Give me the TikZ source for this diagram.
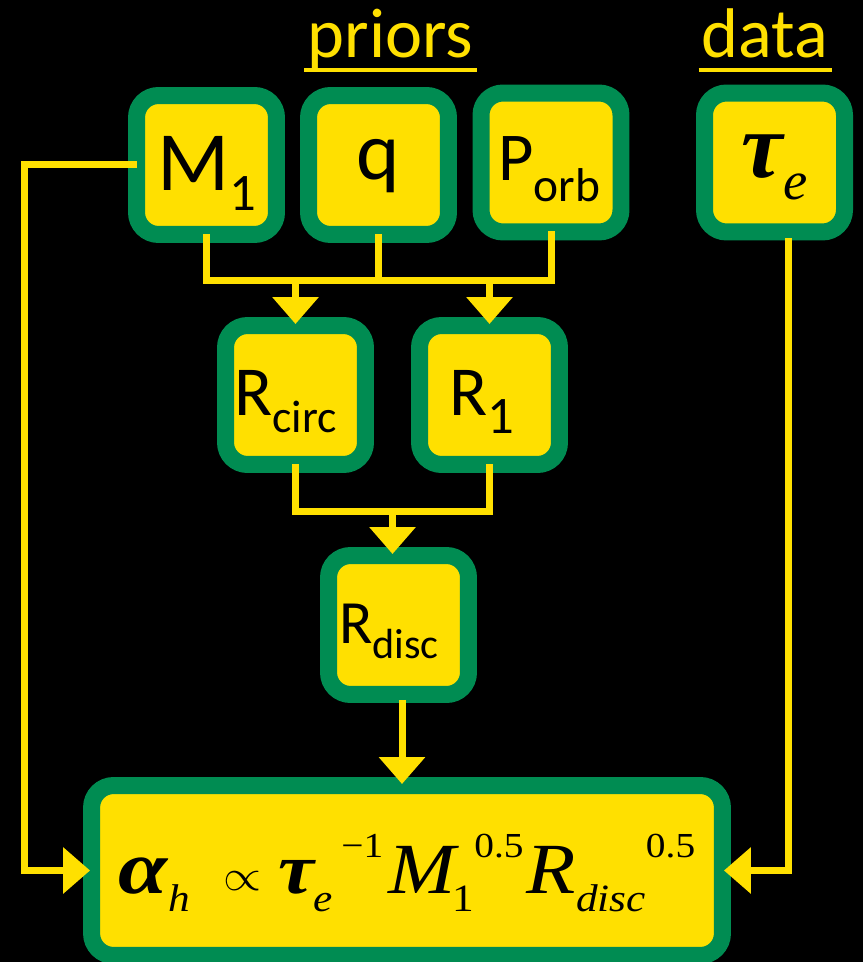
\documentclass[tikz,border=0pt]{standalone}
\usepackage{fontspec}
\setmainfont{Carlito}
\newfontfamily\tnr{Liberation Serif}
\usetikzlibrary{arrows.meta,calc}
\definecolor{boxgreen}{RGB}{0,140,82}
\definecolor{boxyellow}{RGB}{255,224,0}

\newcommand{\fsub}[1]{\raisebox{-0.36cm}{\fontsize{22}{22}\selectfont #1}}
\newcommand{\fsup}[1]{\raisebox{0.72cm}{\fontsize{20}{20}\selectfont #1}}

\begin{document}
\begin{tikzpicture}[
  x=0.02cm, y=-0.02cm,
  box/.style={draw=boxgreen, line width=0.34cm, fill=boxyellow, rounded corners=0.44cm,
    minimum width=2.8cm, minimum height=2.78cm, inner sep=0pt, text depth=0pt},
  title/.style={text=boxyellow, font=\fontsize{40}{40}\selectfont, anchor=base, inner sep=0.06cm},
  link/.style={draw=boxyellow, line width=0.14cm},
  arrow/.style={link, -{Triangle[width=0.9cm,length=0.54cm]}, shorten >=-0.14cm}
]
  \useasboundingbox (0,0) rectangle (863,962);
  \fill[black] (0,0) rectangle (863,962);

  % headings
  \node[title] (priors) at (390.5,58) {priors};
  \node[title] (data) at (765,58) {data};
  \draw[link, line width=0.08cm] ([yshift=-0.24cm]priors.base west) -- ([yshift=-0.24cm]priors.base east);
  \draw[link, line width=0.08cm] ([yshift=-0.24cm]data.base west) -- ([yshift=-0.24cm]data.base east);

  % priors and data
  \node[box, text height=1.04cm] (m1) at (206.5,165)
    {\fontsize{48}{48}\selectfont M\raisebox{-0.4cm}{\fontsize{30}{30}\selectfont 1}};
  \node[box, text height=0.6cm] (q) at (378.5,165) {\fontsize{47}{47}\selectfont q};
  \node[box, text height=0.74cm] (porb) at (551,162.5)
    {\fontsize{39}{39}\selectfont P\raisebox{-0.42cm}{\fontsize{27}{27}\selectfont orb}\kern0.08cm};
  \node[box, text height=0.62cm] (tau) at (774.5,162.5)
    {\tnr\fontsize{53}{53}\selectfont\bfseries\itshape τ\raisebox{-0.44cm}{\fontsize{31}{31}\selectfont\mdseries e}};

  % derived radii
  \node[box, text height=0.84cm] (rcirc) at (295.5,395)
    {\fontsize{40}{40}\selectfont R\raisebox{-0.34cm}{\fontsize{26}{26}\selectfont circ}\kern0.4cm};
  \node[box, text height=0.84cm] (r1) at (489.5,395)
    {\fontsize{40}{40}\selectfont R\raisebox{-0.36cm}{\fontsize{30}{30}\selectfont 1}\kern0.32cm};
  \node[box, text height=0.72cm] (rdisc) at (398.5,625)
    {\fontsize{35}{35}\selectfont R\raisebox{-0.32cm}{\fontsize{24}{24}\selectfont disc}\kern0.38cm};

  % result
  \node[box, minimum width=12.62cm, minimum height=3.4cm, text height=0.9cm] (formula) at (407,870.5)
    {\scalebox{1.12}[1]{\tnr\fontsize{41}{41}\selectfont
     \scalebox{1.1}[1.05]{\bfseries\itshape α}\kern0.01cm\fsub{\itshape h}\kern0.6cm%
     \raisebox{0.06cm}{\fontsize{38}{38}\selectfont$\propto$}\kern0.3cm%
     {\bfseries\itshape τ}\kern-0.02cm\fsub{\itshape e}\kern0.16cm\fsup{−1}\kern0.1cm%
     {\itshape M}\kern-0.06cm\fsub{1}\fsup{0.5}\kern0.06cm{\itshape R}\fsub{\itshape disc}\fsup{0.5}}};

  % connectors
  \coordinate (bus1) at (0,281);
  \coordinate (bus2) at (0,511);
  \draw[arrow, shorten <=-0.18cm] (m1.west) -- ++(-103.5,0) |- (formula.west);
  \draw[link, shorten <=-0.18cm, shorten >=-0.18cm] (m1.south) |- (bus1 -| porb.south) -- (porb.south);
  \draw[link, shorten <=-0.18cm] (q.south) -- (q.south |- bus1);
  \draw[arrow] (rcirc.north |- bus1) -- (rcirc.north);
  \draw[arrow] (r1.north |- bus1) -- (r1.north);
  \draw[link, shorten <=-0.18cm, shorten >=-0.18cm] (rcirc.south) |- (bus2 -| r1.south) -- (r1.south);
  \draw[arrow] ([xshift=-0.12cm]rdisc.north |- bus2) -- ([xshift=-0.12cm]rdisc.north);
  \draw[arrow, shorten <=-0.06cm] ([xshift=0.07cm]rdisc.south) -- ([xshift=0.07cm]rdisc.south |- formula.north);
  \draw[arrow, shorten <=-0.04cm] ([xshift=0.27cm]tau.south) |- (formula.east);
\end{tikzpicture}
\end{document}
